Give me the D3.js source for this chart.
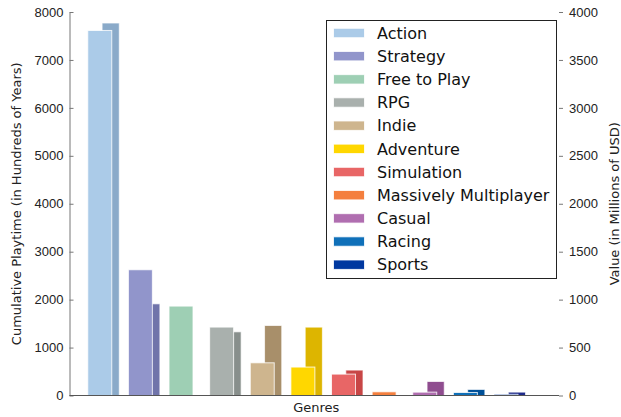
<!DOCTYPE html>
<html>
<head>
<meta charset="utf-8">
<style>
body { margin: 0; background: #fff; }
svg { font-family: "DejaVu Sans", sans-serif; }
.tick text { fill: #222; font-size: 13px; }
.legend text { fill: #111; font-size: 16px; }
</style>
</head>
<body>
<script src="https://cdn.jsdelivr.net/npm/d3@7"></script>
<script>

var genres = ["Action", "Strategy", "Free to Play", "RPG", "Indie", "Adventure",
              "Simulation", "Massively Multiplayer", "Casual", "Racing", "Sports"];
var playtime = [7615, 2623, 1865, 1427, 682, 593, 446, 77, 70, 63, 25];
var value = [3885, 956, 0, 664, 730, 713, 265, 0, 146, 63, 35];
var lightColors = ["#abcbe8", "#9195cb", "#9ecfb4", "#a9b0ad", "#ceb58e", "#ffd700",
                   "#e86666", "#f47f3e", "#b06eb0", "#0f70b9", "#0038a0"];
var darkColors = ["#8aaac9", "#7074aa", "#7dae93", "#888f8c", "#a88f6a", "#ddb500",
                  "#c84646", "#d35e1d", "#8f4d8f", "#005098", "#1e2a8a"];
var leftTicks = [0, 1000, 2000, 3000, 4000, 5000, 6000, 7000, 8000];
var rightTicks = [0, 500, 1000, 1500, 2000, 2500, 3000, 3500, 4000];

var width = 621, height = 417;
var plotLeft = 69.5, plotRight = 559, plotTop = 12, plotBottom = 395.5;

var svg = d3.select("body").append("svg")
    .attr("width", width)
    .attr("height", height);

var x = d3.scaleLinear().domain([-0.45, 11.6]).range([plotLeft, plotRight]);
var y = d3.scaleLinear().domain([0, 8000]).range([plotBottom, plotTop]);
var y2 = d3.scaleLinear().domain([0, 4000]).range([plotBottom, plotTop]);

var idx = d3.range(genres.length);

// value bars go behind
svg.append("g").selectAll("rect")
    .data(idx)
  .enter().append("rect")
    .attr("x", function(i) { return x(i + 0.352); })
    .attr("width", x(0.423) - x(0))
    .attr("y", function(i) { return y2(value[i]); })
    .attr("height", function(i) { return plotBottom - y2(value[i]); })
    .attr("fill", function(i) { return darkColors[i]; })
    .attr("stroke", "#fff")
    .attr("stroke-opacity", 0.7)
    .attr("stroke-width", 1);

svg.append("g").selectAll("rect")
    .data(idx)
  .enter().append("rect")
    .attr("x", function(i) { return x(i); })
    .attr("width", x(0.59) - x(0))
    .attr("y", function(i) { return y(playtime[i]); })
    .attr("height", function(i) { return plotBottom - y(playtime[i]); })
    .attr("fill", function(i) { return lightColors[i]; })
    .attr("stroke", "#fff")
    .attr("stroke-opacity", 0.8)
    .attr("stroke-width", 1);

// axes
var yAxis = svg.append("g")
    .attr("transform", "translate(" + plotLeft + ",0)")
    .call(d3.axisLeft(y).tickValues(leftTicks).tickFormat(d3.format("d"))
      .tickSizeInner(-4).tickSizeOuter(0).tickPadding(6));
yAxis.select(".domain").attr("stroke", "#777");
yAxis.selectAll(".tick line").attr("stroke", "#777");
yAxis.selectAll(".tick text").attr("x", -6);

var yAxis2 = svg.append("g")
    .attr("transform", "translate(" + plotRight + ",0)")
    .call(d3.axisRight(y2).tickValues(rightTicks).tickFormat(d3.format("d"))
      .tickSizeInner(4).tickSizeOuter(0).tickPadding(6));
yAxis2.select(".domain").remove();
yAxis2.selectAll(".tick line").attr("stroke", "#777");

svg.append("line")
    .attr("x1", plotLeft).attr("x2", plotRight)
    .attr("y1", plotBottom).attr("y2", plotBottom)
    .attr("stroke", "#555")
    .attr("stroke-width", 1.2);

svg.append("text")
    .attr("transform", "translate(21," + (plotTop + plotBottom) / 2 + ") rotate(-90)")
    .attr("text-anchor", "middle")
    .attr("font-size", 13)
    .attr("fill", "#222")
    .text("Cumulative Playtime (in Hundreds of Years)");

svg.append("text")
    .attr("transform", "translate(619," + (plotTop + plotBottom) / 2 + ") rotate(-90)")
    .attr("text-anchor", "middle")
    .attr("font-size", 13)
    .attr("fill", "#222")
    .text("Value (in Millions of USD)");

svg.append("text")
    .attr("x", (plotLeft + plotRight) / 2 + 2)
    .attr("y", 412)
    .attr("text-anchor", "middle")
    .attr("font-size", 13)
    .attr("fill", "#222")
    .text("Genres");

// legend
var legend = svg.append("g").attr("class", "legend");
legend.append("rect")
    .attr("x", 326.5).attr("y", 20.5)
    .attr("width", 230).attr("height", 258)
    .attr("fill", "#fff")
    .attr("stroke", "#222")
    .attr("stroke-width", 1);

var item = legend.selectAll(".item")
    .data(idx)
  .enter().append("g")
    .attr("class", "item")
    .attr("transform", function(i) { return "translate(0," + (33 + i * 23.17) + ")"; });

item.append("rect")
    .attr("x", 333.5).attr("y", -4.7)
    .attr("width", 31).attr("height", 9.4)
    .attr("fill", function(i) { return lightColors[i]; })
    .attr("stroke", "#fff")
    .attr("stroke-opacity", 0.8);

item.append("text")
    .attr("x", 377)
    .attr("dy", "0.36em")
    .text(function(i) { return genres[i]; });

</script>
</body>
</html>
